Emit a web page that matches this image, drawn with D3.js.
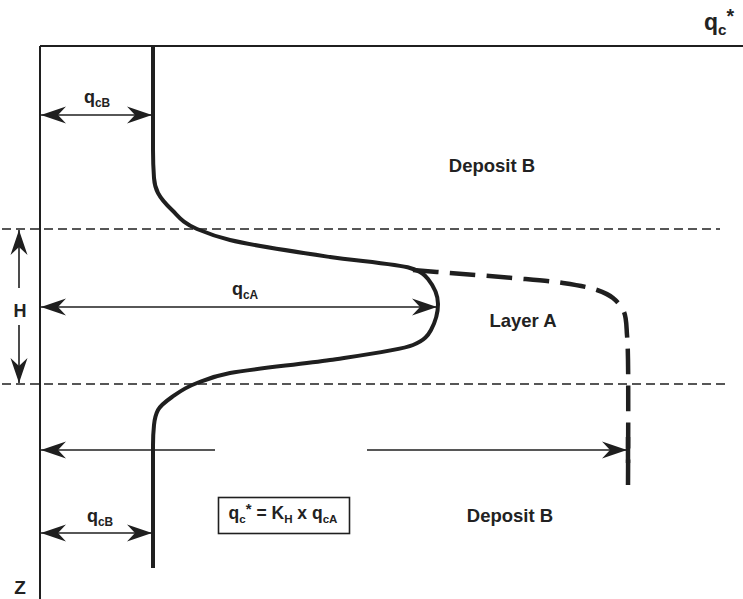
<!DOCTYPE html>
<html>
<head>
<meta charset="utf-8">
<script src="https://cdn.jsdelivr.net/npm/d3@7.9.0/dist/d3.min.js"></script>
<style>
  html, body { margin: 0; padding: 0; background: #fff; }
  svg { display: block; }
  text { font-family: "Liberation Sans", Arial, sans-serif; font-weight: bold; fill: #222; }
</style>
</head>
<body>
<div id="chart"></div>
<script>
// cone resistance qc (horizontal) vs depth z (vertical), schematic units
const profileQc = [11.3, 11.3, 11.4, 11.8, 13.2, 15.7, 19.0, 29.0, 37.0, 38.8, 39.8, 39.1, 37.3, 29.0, 19.0, 15.7, 13.2, 11.8, 11.4, 11.3, 11.3];
const profileZ  = [0, 10.4, 13.2, 14.7, 16.4, 18.3, 19.4, 21.1, 22.2, 23.3, 25.8, 28.4, 29.9, 31.4, 32.7, 33.7, 35.1, 36.4, 37.9, 39.9, 52.2];

// equivalent thick-layer resistance qc*
const enhancedQc = [37.3, 41.0, 47.3, 52.3, 55.7, 57.3, 58.4, 58.7, 58.8, 58.8];
const enhancedZ  = [22.4, 22.7, 23.2, 23.7, 24.4, 25.2, 26.6, 28.9, 31.4, 43.9];

const layerTop = 18.3, layerBottom = 33.8;
const qcB = 11.3, qcA = 39.8, qcStar = 58.8;
const zQcBTop = 6.9, zQcA = 26.1, zQcStar = 40.4, zQcBBottom = 48.7;

const width = 743, height = 599;
const x = d3.scaleLinear().domain([0, 70]).range([40, 740]);
const y = d3.scaleLinear().domain([0, 55.3]).range([46, 599]);
const ink = '#1f1f1f';

const svg = d3.select('#chart').append('svg')
  .attr('width', width).attr('height', height);

// axes frame
svg.append('line').attr('x1', x(0)).attr('x2', width).attr('y1', y(0)).attr('y2', y(0))
  .attr('stroke', ink).attr('stroke-width', 2);
svg.append('line').attr('x1', x(0)).attr('x2', x(0)).attr('y1', y(0)).attr('y2', height)
  .attr('stroke', ink).attr('stroke-width', 2);

// layer boundaries
svg.append('line').attr('x1', x(-3.8)).attr('x2', x(68)).attr('y1', y(layerTop)).attr('y2', y(layerTop))
  .attr('stroke', ink).attr('stroke-width', 1.4).attr('stroke-dasharray', '9,5');
svg.append('line').attr('x1', x(-3.8)).attr('x2', x(68.8)).attr('y1', y(layerBottom)).attr('y2', y(layerBottom))
  .attr('stroke', ink).attr('stroke-width', 1.4).attr('stroke-dasharray', '9,5');

// profiles
const line = d3.line().x(d => x(d[0])).y(d => y(d[1])).curve(d3.curveMonotoneY);
svg.append('path').datum(d3.zip(profileQc, profileZ)).attr('d', line)
  .attr('fill', 'none').attr('stroke', ink).attr('stroke-width', 4).attr('stroke-linejoin', 'round');
const dashed = svg.append('path').datum(d3.zip(enhancedQc, enhancedZ))
  .attr('d', line.curve(d3.curveCatmullRom.alpha(0.5)))
  .attr('fill', 'none').attr('stroke', ink).attr('stroke-width', 4.5);
// fit a whole number of dashes so the line starts and ends on a dash
const totalLen = dashed.node().getTotalLength();
const n = Math.round((totalLen + 11) / 36);
const k = totalLen / (n * 25 + (n - 1) * 11);
dashed.attr('stroke-dasharray', `${25 * k},${11 * k}`);
svg.append('line').attr('x1', x(qcStar)).attr('x2', x(qcStar)).attr('y1', y(zQcStar - 1.3)).attr('y2', y(zQcStar + 1.3))
  .attr('stroke', ink).attr('stroke-width', 4.5);

// arrows
function head(x1, y1, x2, y2) {
  const dx = x2 - x1, dy = y2 - y1, len = Math.hypot(dx, dy);
  const ux = dx / len, uy = dy / len, nx = -uy, ny = ux;
  const L = 25, W = 8.5, N = 17;
  const p = [[x2, y2], [x2 - L * ux + W * nx, y2 - L * uy + W * ny],
             [x2 - N * ux, y2 - N * uy], [x2 - L * ux - W * nx, y2 - L * uy - W * ny]];
  svg.append('path').attr('d', 'M' + p.join('L') + 'Z').attr('fill', ink);
}
function arrow(q1, z1, q2, z2, startHead, endHead) {
  const x1 = x(q1), y1 = y(z1), x2 = x(q2), y2 = y(z2);
  svg.append('line').attr('x1', x1).attr('y1', y1).attr('x2', x2).attr('y2', y2)
    .attr('stroke', ink).attr('stroke-width', 1.6);
  if (startHead) head(x2, y2, x1, y1);
  if (endHead) head(x1, y1, x2, y2);
}
arrow(0.1, zQcBTop, qcB - 0.1, zQcBTop, true, true);
arrow(0.1, zQcA, qcA - 0.1, zQcA, true, false);
head(x(0), y(zQcA), x(qcA - 0.1), y(zQcA));
arrow(0.1, zQcBBottom, qcB - 0.1, zQcBBottom, true, true);
arrow(17.5, zQcStar, 0.1, zQcStar, false, true);
arrow(32.7, zQcStar, qcStar - 0.1, zQcStar, false, true);
arrow(-2.1, 24.2, -2.1, layerTop + 0.1, false, true);
arrow(-2.1, 27.9, -2.1, layerBottom - 0.1, false, true);

// rich text helper
function rich(px, py, parts, size, anchor) {
  const t = svg.append('text').attr('x', px).attr('y', py)
    .attr('text-anchor', anchor || 'middle').style('font-size', size + 'px');
  let shift = 0;
  parts.forEach(([s, kind]) => {
    const target = kind === 'sub' ? size * 0.22 : kind === 'sup' ? -size * 0.3 : 0;
    const fs = kind === 'sub' ? size * 0.66 : kind === 'sup' ? size * 0.85 : size;
    t.append('tspan').attr('dy', target - shift).style('font-size', fs + 'px').text(s);
    shift = target;
  });
  return t;
}

rich(97, y(zQcBTop) - 12, [['q'], ['cB', 'sub']], 18);
rich(245, y(zQcA) - 12, [['q'], ['cA', 'sub']], 18);
rich(100, y(zQcBBottom) - 11, [['q'], ['cB', 'sub']], 18);
rich(719, 30, [['q'], ['c', 'sub'], ['*', 'sup']], 23);
rich(283, 519, [['q'], ['c', 'sub'], ['*', 'sup'], [' = K'], ['H', 'sub'], [' x q'], ['cA', 'sub']], 17.5);

svg.append('rect').attr('x', 218.5).attr('y', 497.5).attr('width', 131).attr('height', 36)
  .attr('fill', 'none').attr('stroke', ink).attr('stroke-width', 1.6);

svg.append('text').attr('x', 492).attr('y', 172).attr('text-anchor', 'middle').style('font-size', '18.5px').text('Deposit B');
svg.append('text').attr('x', 523).attr('y', 327).attr('text-anchor', 'middle').style('font-size', '18.5px').text('Layer A');
svg.append('text').attr('x', 510).attr('y', 522).attr('text-anchor', 'middle').style('font-size', '18.5px').text('Deposit B');
svg.append('text').attr('x', 20).attr('y', 317).attr('text-anchor', 'middle').style('font-size', '18px').text('H');
svg.append('text').attr('x', 20).attr('y', 594).attr('text-anchor', 'middle').style('font-size', '19px').text('Z');
</script>
</body>
</html>
